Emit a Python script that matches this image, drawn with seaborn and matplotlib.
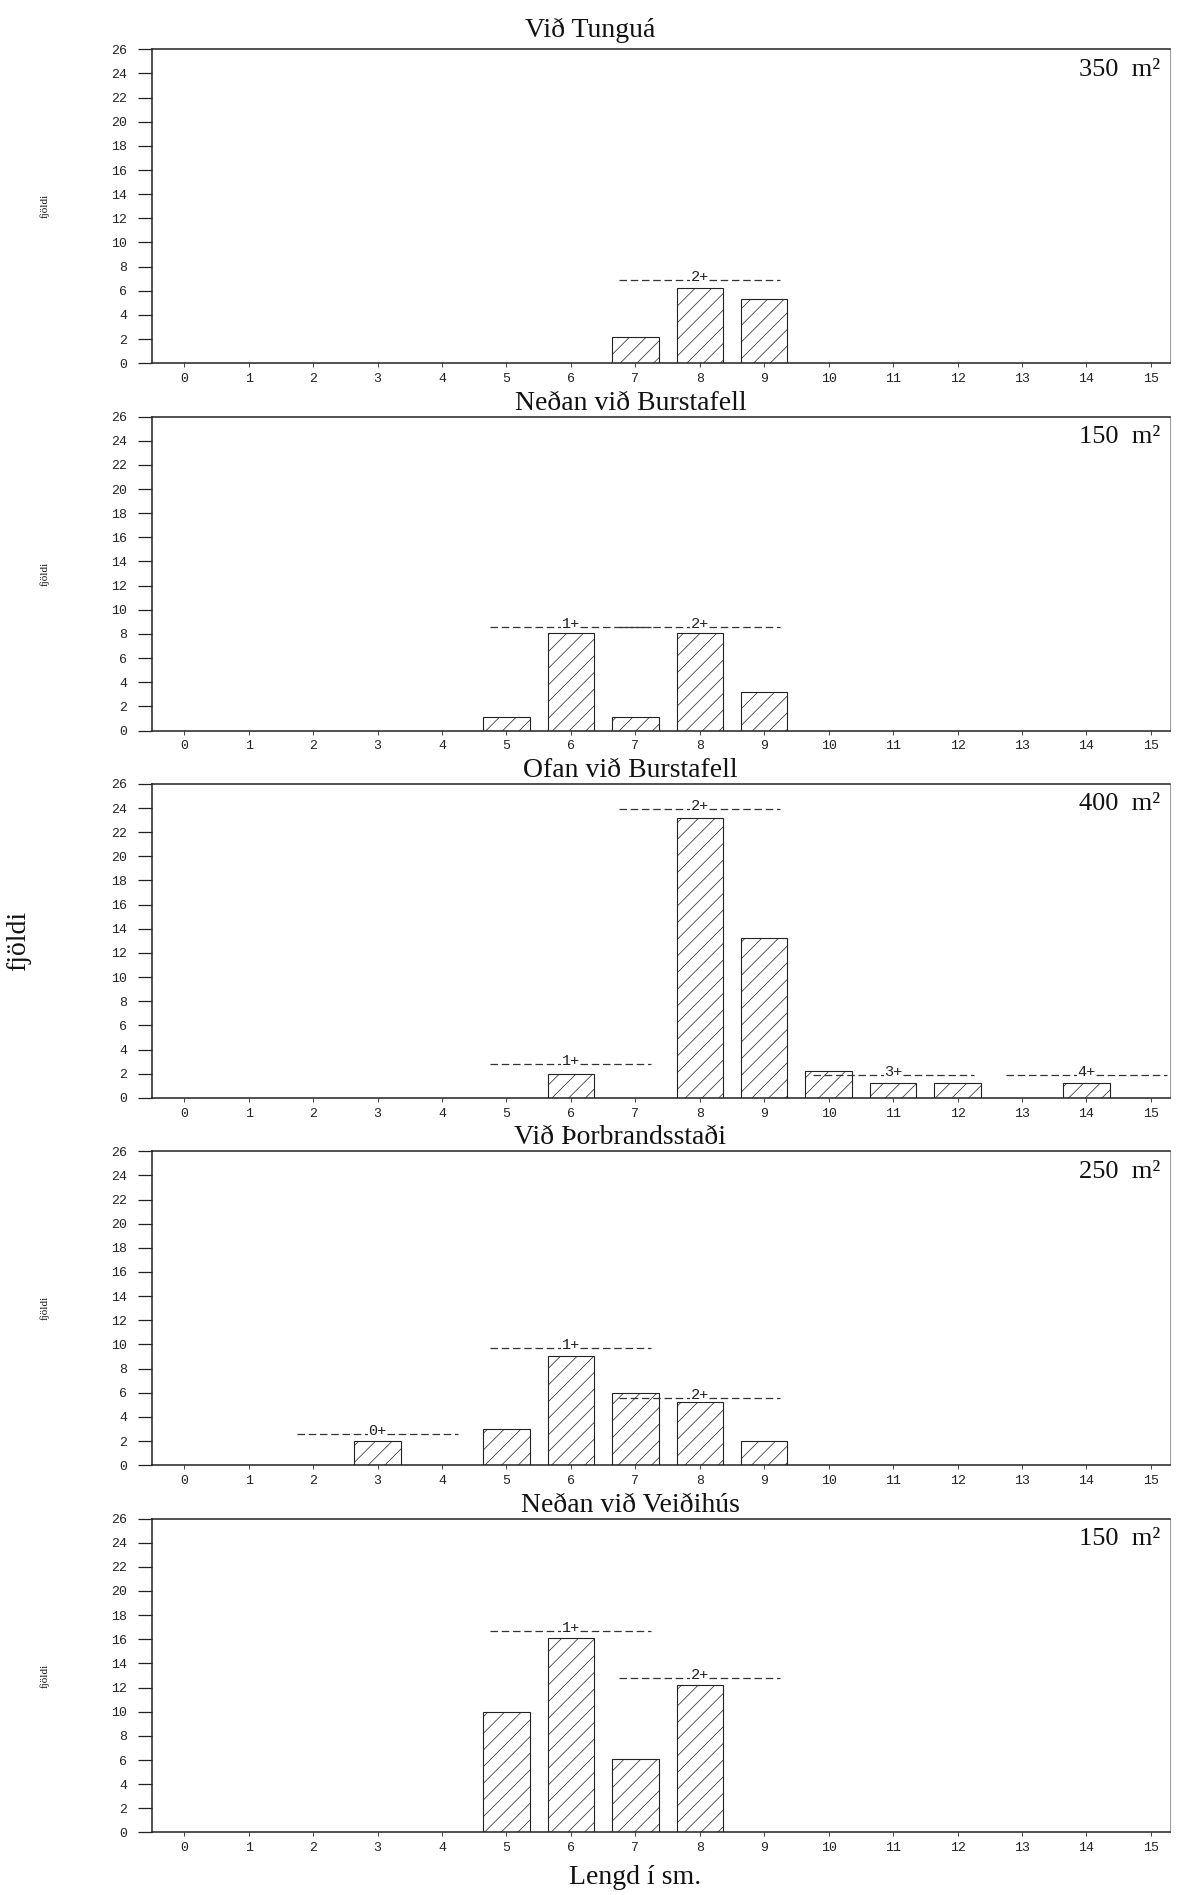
import pandas as pd
import matplotlib
matplotlib.use('Agg')
import matplotlib.pyplot as plt
import seaborn as sns

# gögn lesin af myndinni
titles = ['Við Tunguá', 'Neðan við Burstafell', 'Ofan við Burstafell',
          'Við Þorbrandsstaði', 'Neðan við Veiðihús']
areas = ['350', '150', '400', '250', '150']

lengd_1 = [7, 8, 9]
fjoldi_1 = [2.2, 6.2, 5.3]
lengd_2 = [5, 6, 7, 8, 9]
fjoldi_2 = [1.1, 8.1, 1.1, 8.1, 3.2]
lengd_3 = [6, 8, 9, 10, 11, 12, 14]
fjoldi_3 = [2.0, 23.2, 13.2, 2.2, 1.2, 1.2, 1.2]
lengd_4 = [3, 5, 6, 7, 8, 9]
fjoldi_4 = [2.0, 3.0, 9.0, 6.0, 5.2, 2.0]
lengd_5 = [5, 6, 7, 8]
fjoldi_5 = [10.0, 16.1, 6.1, 12.2]

# aldursflokkar: merki, miðja (sm) og hæð línu
aldur_1, aldur_x_1, aldur_y_1 = ['2+'], [8], [6.9]
aldur_2, aldur_x_2, aldur_y_2 = ['1+', '2+'], [6, 8], [8.6, 8.6]
aldur_3, aldur_x_3, aldur_y_3 = ['1+', '2+', '3+', '4+'], [6, 8, 11, 14], [2.8, 23.9, 1.9, 1.9]
aldur_4, aldur_x_4, aldur_y_4 = ['0+', '1+', '2+'], [3, 6, 8], [2.6, 9.7, 5.6]
aldur_5, aldur_x_5, aldur_y_5 = ['1+', '2+'], [6, 8], [16.7, 12.8]

x_ticks = list(range(16))
y_ticks = list(range(0, 27, 2))

panels = [
    (lengd_1, fjoldi_1, aldur_1, aldur_x_1, aldur_y_1),
    (lengd_2, fjoldi_2, aldur_2, aldur_x_2, aldur_y_2),
    (lengd_3, fjoldi_3, aldur_3, aldur_x_3, aldur_y_3),
    (lengd_4, fjoldi_4, aldur_4, aldur_x_4, aldur_y_4),
    (lengd_5, fjoldi_5, aldur_5, aldur_x_5, aldur_y_5),
]
title_x = [0.43, 0.47, 0.47, 0.46, 0.47]
title_pad = [9, 5, 5, 5, 5]

sns.set_theme(style='ticks')
plt.rcParams['font.family'] = ['Liberation Serif', 'DejaVu Serif']
plt.rcParams['hatch.linewidth'] = 0.5
mono = 'Liberation Mono'

fig, axes = plt.subplots(5, 1, figsize=(11.88, 18.95), dpi=100)
fig.subplots_adjust(left=0.128, right=0.985, top=0.974, bottom=0.033, hspace=0.17)

for i, (ax, (lengd, fjoldi, aldur, ax_x, ax_y)) in enumerate(zip(axes, panels)):
    df = pd.DataFrame({'lengd': lengd, 'fjoldi': fjoldi})
    sns.barplot(data=df, x='lengd', y='fjoldi', native_scale=True, width=0.72,
                color='white', saturation=1, edgecolor='black', linewidth=0.8,
                hatch='//', errorbar=None, ax=ax)
    for p in ax.patches:
        p.set_facecolor('white')
        p.set_edgecolor('#222222')

    # aldurslínur
    for lab, cx, cy in zip(aldur, ax_x, ax_y):
        ax.plot([cx - 1.25, cx + 1.25], [cy, cy], color='#333333', lw=0.9,
                linestyle=(0, (6, 3)))
        ax.text(cx, cy + 0.25, lab, ha='center', va='center', fontsize=11,
                family=mono, color='#222222',
                bbox=dict(facecolor='white', edgecolor='none', pad=0.3))

    ax.set_xlim(-0.5, 15.3)
    ax.set_ylim(0, 26)
    ax.set_xticks(x_ticks)
    ax.set_xticklabels([str(t) for t in x_ticks], family=mono, fontsize=9.5)
    ax.set_yticks(y_ticks)
    ax.set_yticklabels([str(t) for t in y_ticks], family=mono, fontsize=9.5)
    ax.tick_params(axis='y', direction='out', length=10, width=0.9, pad=8, colors='#222222')
    ax.tick_params(axis='x', direction='out', length=3, width=0.6, pad=4, colors='#222222')
    ax.set_xlabel('')
    ax.set_ylabel('')
    for side in ['left', 'bottom', 'top']:
        ax.spines[side].set_color('#222222')
        ax.spines[side].set_linewidth(1.1)
    ax.spines['right'].set_visible(True)
    ax.spines['right'].set_color('#888888')
    ax.spines['right'].set_linewidth(0.6)

    ax.set_title(titles[i], x=title_x[i], fontsize=20, pad=title_pad[i], color='#111111')
    ax.text(0.99, 0.935, areas[i] + '  m²', transform=ax.transAxes, ha='right',
            va='center', fontsize=19, color='#111111')

    # y-ás merking
    pos = ax.get_position()
    ymid = (pos.y0 + pos.y1) / 2
    if i == 2:
        fig.text(0.016, ymid, 'fjöldi', rotation=90, ha='center', va='center',
                 fontsize=20, color='#111111')
    else:
        fig.text(0.038, ymid, 'fjöldi', rotation=90, ha='center', va='center',
                 fontsize=8, color='#111111')

fig.text(0.535, 0.009, 'Lengd í sm.', ha='center', va='center', fontsize=20,
         color='#111111')

fig.savefig('out.png', dpi=100, facecolor='white')
